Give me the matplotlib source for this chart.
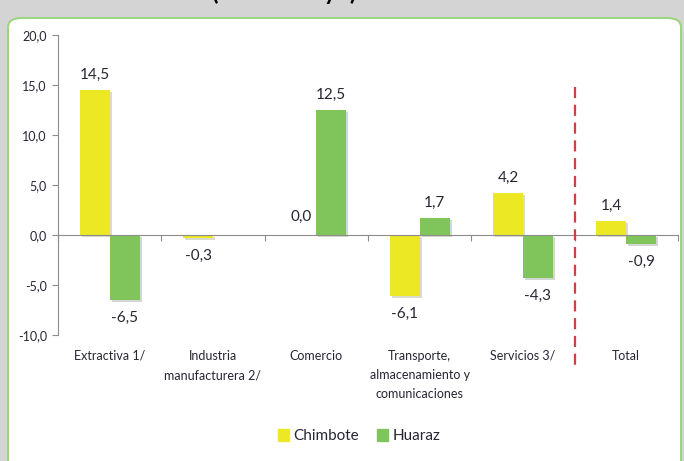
import matplotlib
matplotlib.use("Agg")
import matplotlib.pyplot as plt
import matplotlib.patheffects as pe
from matplotlib.patches import FancyBboxPatch
from matplotlib.transforms import blended_transform_factory
import numpy as np

plt.rcParams['font.family'] = ['Lato', 'DejaVu Sans']

# datos (var. %)
categorias = ["Extractiva 1/", "Industria\nmanufacturera 2/", "Comercio",
              "Transporte,\nalmacenamiento y\ncomunicaciones", "Servicios 3/", "Total"]
chimbote = [14.5, -0.3, 0.0, -6.1, 4.2, 1.4]
huaraz = [-6.5, None, 12.5, 1.7, -4.3, -0.9]
yticks = [-10, -5, 0, 5, 10, 15, 20]

AMARILLO = "#ece824"
VERDE = "#80c45c"
TXT = "#262633"
GRIS = "#8c8c8c"

fig = plt.figure(figsize=(6.84, 4.61), dpi=100)
fig.patch.set_facecolor("#d4d4d4")

# panel blanco con borde verde
panel = FancyBboxPatch((8 / 684, -20 / 461), 673 / 684, (461 + 20 - 18) / 461,
                       boxstyle="round,pad=0,rounding_size=0.02",
                       transform=fig.transFigure, facecolor="white",
                       edgecolor="#9ed47f", linewidth=1.5, zorder=-5)
fig.patches.append(panel)

# titulo cortado en el borde superior (solo se ven los trazos inferiores)
fig.text(0.31, 1 + 0.5 / 461, "(Var. % mayo)", fontsize=17, fontweight="bold",
         color="black", va="baseline", ha="left")

ax = fig.add_axes([58 / 684, 1 - 335 / 461, 620 / 684, 300 / 461])
ax.set_facecolor("none")

x = np.arange(len(categorias))
w = 0.29
sombra = [pe.SimplePatchShadow(offset=(1.5, -1.5), alpha=0.2), pe.Normal()]

for i in range(len(categorias)):
    for val, off, col in ((chimbote[i], -w / 2, AMARILLO), (huaraz[i], w / 2, VERDE)):
        if val is None:
            continue
        b = ax.bar(x[i] + off, val, width=w, color=col, zorder=3)
        for p in b.patches:
            p.set_path_effects(sombra)
        lbl = f"{val:.1f}".replace(".", ",")
        if i == 2 and off < 0:
            ax.annotate(lbl, (x[i] + off, val), xytext=(0, 8), textcoords="offset points",
                        ha="center", va="bottom", fontsize=11, color=TXT)
        elif val >= 0:
            ax.annotate(lbl, (x[i] + off, val), xytext=(0, 6), textcoords="offset points",
                        ha="center", va="bottom", fontsize=11, color=TXT)
        else:
            ax.annotate(lbl, (x[i] + off, val), xytext=(0, -8), textcoords="offset points",
                        ha="center", va="top", fontsize=11, color=TXT)

ax.set_xlim(-0.5, len(categorias) - 0.5)
ax.set_ylim(-10, 20)
ax.set_yticks(yticks)
ax.set_yticklabels([f"{v:.1f}".replace(".", ",") for v in yticks], fontsize=9, color=TXT)
ax.tick_params(axis="y", direction="out", length=4, color=GRIS, pad=4)

for s in ("top", "right"):
    ax.spines[s].set_visible(False)
ax.spines["left"].set_color(GRIS)
ax.spines["bottom"].set_position(("data", 0))
ax.spines["bottom"].set_color(GRIS)
ax.spines["bottom"].set_zorder(4)

ax.set_xticks(np.arange(-0.5, len(categorias), 1.0))
ax.set_xticklabels([])
ax.tick_params(axis="x", direction="out", length=4, color=GRIS)

tr = blended_transform_factory(ax.transData, ax.transAxes)
for i, c in enumerate(categorias):
    ax.text(x[i], -0.05, c, transform=tr, ha="center", va="top", fontsize=9,
            color=TXT, linespacing=1.7)

# separador del total
ax.plot([4.5, 4.5], [14.8, -13.6], color="#d0413e", lw=1.6, ls=(0, (5, 3)),
        clip_on=False, zorder=5)

# leyenda
h1 = plt.Rectangle((0, 0), 1, 1, color=AMARILLO)
h2 = plt.Rectangle((0, 0), 1, 1, color=VERDE)
fig.legend([h1, h2], ["Chimbote", "Huaraz"], loc="center", bbox_to_anchor=(0.525, 1 - 436 / 461),
           ncol=2, frameon=False, fontsize=11, handlelength=0.7, handleheight=0.9,
           handletextpad=0.3, columnspacing=1.2, labelcolor=TXT)

fig.savefig("out.png", dpi=100, facecolor=fig.get_facecolor())
